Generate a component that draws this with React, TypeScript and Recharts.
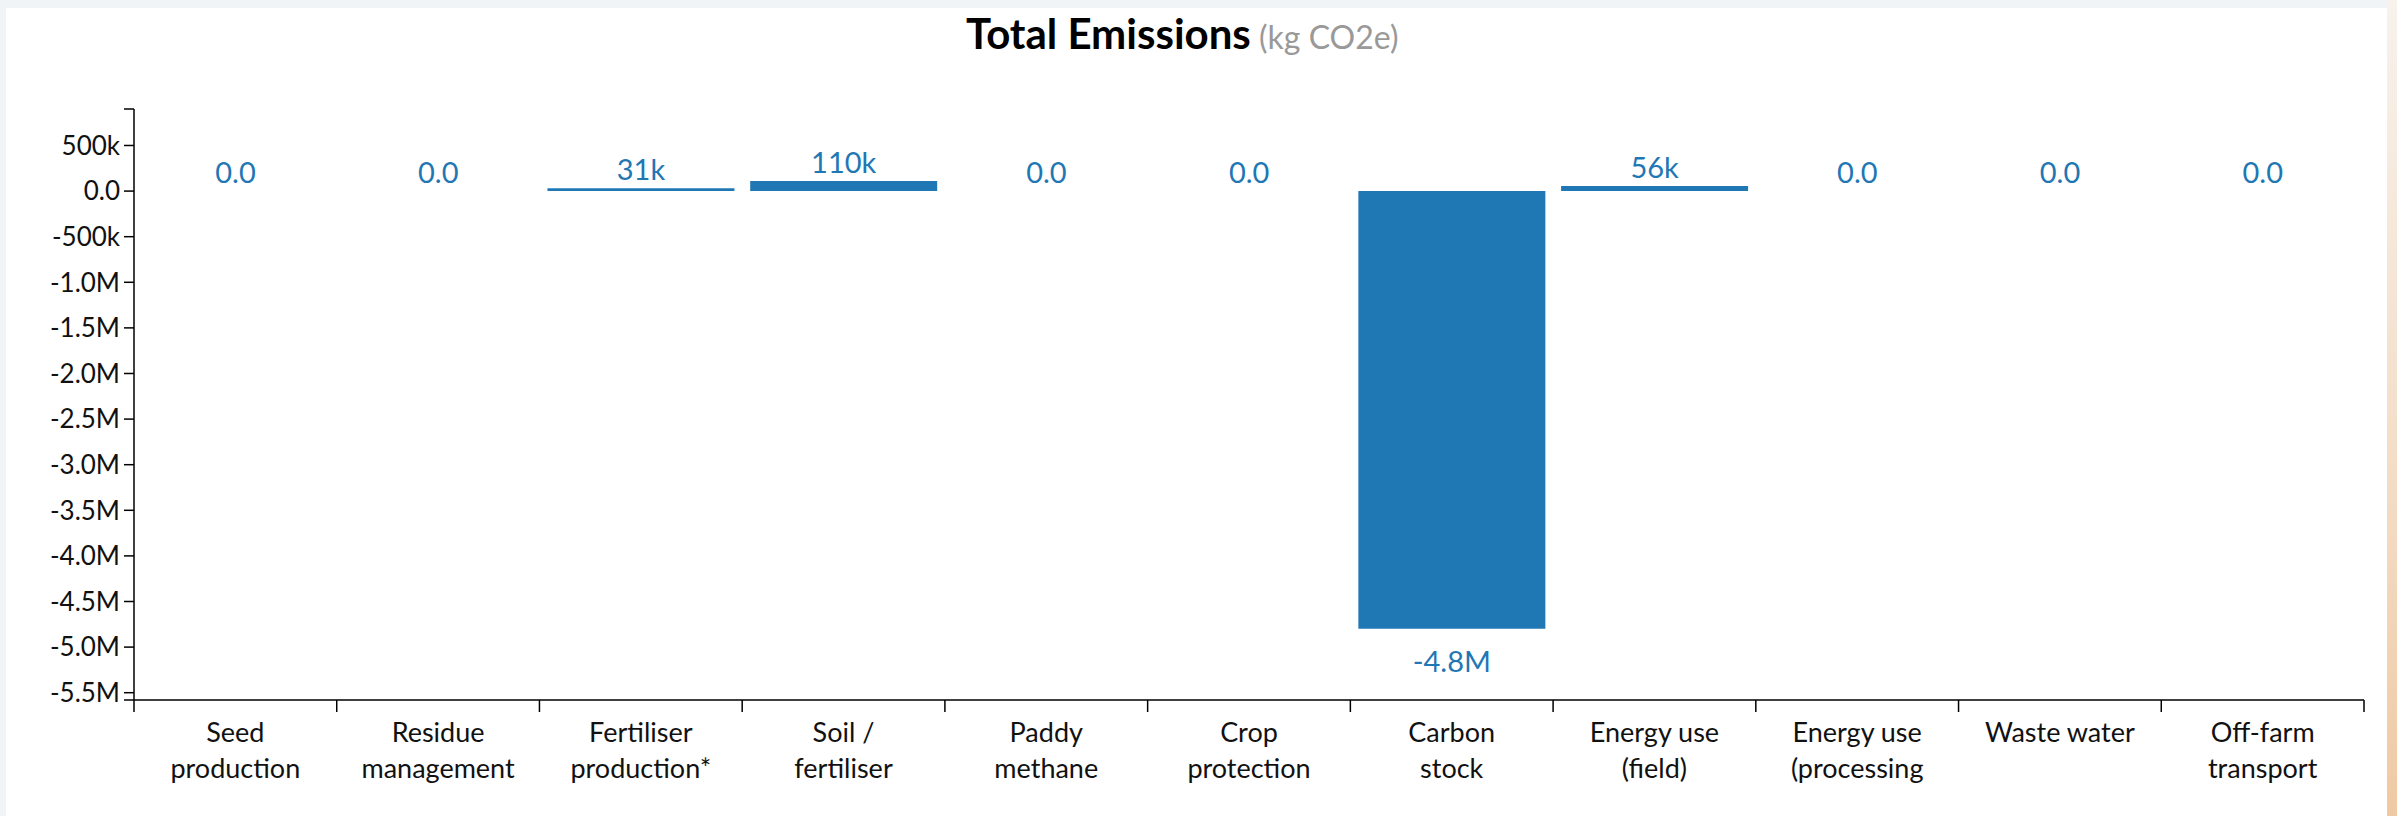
import React from 'react';
import { BarChart, Bar, XAxis, YAxis, LabelList } from 'recharts';

// chart data
const categories = [
  'Seed\nproduction',
  'Residue\nmanagement',
  'Fertiliser\nproduction*',
  'Soil /\nfertiliser',
  'Paddy\nmethane',
  'Crop\nprotection',
  'Carbon\nstock',
  'Energy use\n(field)',
  'Energy use\n(processing',
  'Waste water',
  'Off-farm\ntransport',
];
const emissions = [0, 0, 31000, 110000, 0, 0, -4800000, 56000, 0, 0, 0];
const yTicks = [
  900000, 500000, 0, -500000, -1000000, -1500000, -2000000, -2500000, -3000000, -3500000,
  -4000000, -4500000, -5000000, -5500000, -5580000,
];
const yDomain = [-5580000, 900000];

const data = categories.map((name, i) => ({ name, value: emissions[i] }));

const W = 2397;
const H = 816;
const margin = { top: 109, right: 33, bottom: 16, left: 14 };
const Y_AXIS_W = 120;
const X_AXIS_H = 100;
const plotW = W - margin.left - margin.right - Y_AXIS_W;
const band = plotW / categories.length;

const BLUE = '#1f77b4';
const FONT = 'Lato, Carlito, Calibri, sans-serif';

// d3 ".2s"-like formatting
function fmt(v: number): string {
  if (v === 0) return '0.0';
  const a = Math.abs(v);
  let n = v;
  let suf = '';
  if (a >= 1e6) {
    n = v / 1e6;
    suf = 'M';
  } else if (a >= 1e3) {
    n = v / 1e3;
    suf = 'k';
  }
  const p = Number(n.toPrecision(2));
  const s = Math.abs(p) < 10 ? p.toPrecision(2) : String(p);
  return s + suf;
}

const ValueLabel = (props: any) => {
  const { x, y, width, height, value } = props;
  const cx = Number(x) + Number(width) / 2;
  const top = Math.min(Number(y), Number(y) + Number(height));
  const bottom = Math.max(Number(y), Number(y) + Number(height));
  const ty = value < 0 ? bottom + 43 : top - 8;
  return (
    <text x={cx} y={ty} textAnchor="middle" fill={BLUE} fontSize={29} fontFamily={FONT}>
      {fmt(value)}
    </text>
  );
};

const CategoryTick = (props: any) => {
  const { x, y, payload, index } = props;
  const lines = String(payload.value).split('\n');
  const left = x - band / 2;
  return (
    <g>
      <line x1={left} x2={left} y1={y} y2={y + 12} stroke="#000" strokeWidth={1.5} />
      {index === categories.length - 1 && (
        <line x1={x + band / 2} x2={x + band / 2} y1={y} y2={y + 12} stroke="#000" strokeWidth={1.5} />
      )}
      <text textAnchor="middle" fontSize={27} fontFamily={FONT} fill="#111">
        {lines.map((l, i) => (
          <tspan key={i} x={x} y={y + 42 + i * 36}>
            {l}
          </tspan>
        ))}
      </text>
    </g>
  );
};

export default function App() {
  return (
    <div
      style={{
        position: 'absolute',
        left: 0,
        top: 0,
        width: W,
        height: H,
        overflow: 'hidden',
        background: 'linear-gradient(to bottom, #f7f2ec, #f3dcc5 60%, #efc9a3)',
      }}
    >
      <div style={{ position: 'absolute', left: 0, top: 0, width: 2387, height: H, background: '#f1f4f7' }} />
      <div style={{ position: 'absolute', left: 6, top: 8, width: 2381, height: H - 8, background: '#fff' }} />
      <svg width={W} height={70} style={{ position: 'absolute', left: 0, top: 0 }}>
        <text x={966} y={49} fontFamily={FONT}>
          <tspan fontWeight={700} fontSize={42} fill="#000">
            Total Emissions
          </tspan>
          <tspan fontSize={32} fill="#999">
            {' (kg CO2e)'}
          </tspan>
        </text>
      </svg>
      <div style={{ position: 'absolute', left: 0, top: 0 }}>
        <BarChart width={W} height={H} data={data} margin={margin} barCategoryGap={8}>
          <XAxis
            dataKey="name"
            height={X_AXIS_H}
            interval={0}
            tickLine={false}
            tickSize={0}
            tickMargin={0}
            axisLine={{ stroke: '#000', strokeWidth: 1.5 }}
            tick={<CategoryTick />}
          />
          <YAxis
            width={Y_AXIS_W}
            domain={yDomain}
            ticks={yTicks}
            interval={0}
            allowDataOverflow
            tickSize={10}
            tickMargin={4}
            axisLine={{ stroke: '#000', strokeWidth: 1.5 }}
            tickLine={{ stroke: '#000', strokeWidth: 1.5 }}
            tick={{ fill: '#111', fontSize: 26, fontFamily: FONT }}
            tickFormatter={(v: number) => (v === yDomain[0] || v === yDomain[1] ? '' : fmt(v))}
          />
          <Bar dataKey="value" fill={BLUE} minPointSize={0.01} isAnimationActive={false}>
            <LabelList dataKey="value" content={<ValueLabel />} />
          </Bar>
        </BarChart>
      </div>
    </div>
  );
}
